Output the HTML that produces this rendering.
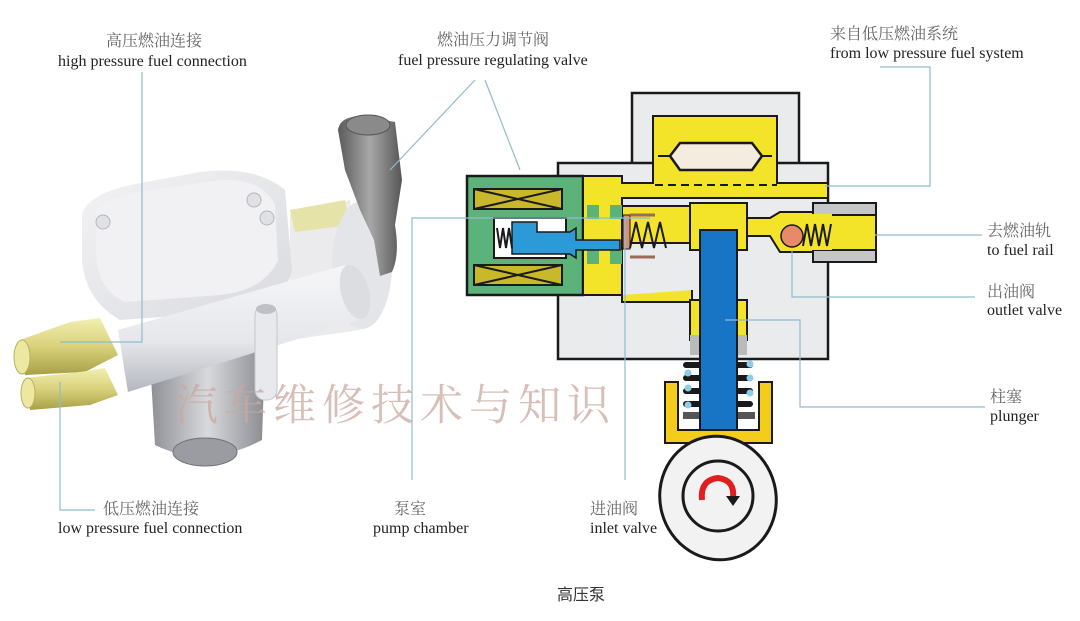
<!DOCTYPE html>
<html><head><meta charset="utf-8"><style>
html,body{margin:0;padding:0;background:#fff;}
svg{display:block;}
.zh{font-family:"Liberation Serif","Noto Serif CJK SC","Noto Sans CJK SC",serif;font-size:16px;fill:#666;}
.en{font-family:"Liberation Serif","Noto Serif CJK SC",serif;font-size:16px;fill:#222;}
.ln{stroke:#8fbccc;stroke-width:1.2;fill:none;}
.k{stroke:#1a1a1a;stroke-width:2.5;}
</style></head><body>
<svg width="1080" height="621" viewBox="0 0 1080 621" xmlns="http://www.w3.org/2000/svg">
<defs>
<linearGradient id="wb" x1="0" y1="0" x2="0" y2="1"><stop offset="0" stop-color="#f6f6f8"/><stop offset="0.6" stop-color="#e6e7eb"/><stop offset="1" stop-color="#b4b7bf"/></linearGradient>
<linearGradient id="cv" x1="0" y1="0" x2="1" y2="1"><stop offset="0" stop-color="#f3f3f5"/><stop offset="1" stop-color="#d9dadf"/></linearGradient>
<linearGradient id="gr" x1="0" y1="0" x2="1" y2="0"><stop offset="0" stop-color="#5a5a5a"/><stop offset="0.5" stop-color="#a8a8a8"/><stop offset="1" stop-color="#555"/></linearGradient>
<linearGradient id="lg" x1="0" y1="0" x2="1" y2="0"><stop offset="0" stop-color="#8d8f95"/><stop offset="0.5" stop-color="#d8d9dc"/><stop offset="1" stop-color="#8a8c92"/></linearGradient>
<linearGradient id="br" x1="0" y1="0" x2="0" y2="1"><stop offset="0" stop-color="#f2efb0"/><stop offset="0.5" stop-color="#d9d27a"/><stop offset="1" stop-color="#a8a048"/></linearGradient>
</defs>

<!-- LEFT PUMP -->
<path d="M150 360 L265 350 L262 440 Q205 470 155 445 Z" fill="url(#lg)"/>
<ellipse cx="205" cy="452" rx="32" ry="14" fill="#9a9ca2" stroke="#6f7176"/>
<path d="M290 215 L350 200 L360 330 L290 340 Z" fill="#ebebee"/>
<path d="M290 210 L345 200 L350 225 L295 232 Z" fill="#e6e3a8"/>
<ellipse cx="362" cy="265" rx="30" ry="64" fill="#e4e5e9"/>
<path d="M82 215 Q86 195 130 185 L200 172 Q255 165 285 190 L292 270 Q285 305 230 312 L120 320 Q85 300 82 260 Z" fill="url(#cv)"/>
<path d="M96 210 Q110 195 150 190 L220 180 Q262 178 275 205 L278 260 Q265 290 220 295 L125 302 Q98 290 96 255 Z" fill="#f1f1f3"/>
<circle cx="103" cy="222" r="7" fill="#e0e1e5" stroke="#b5b6bb"/>
<circle cx="254" cy="200" r="7" fill="#e0e1e5" stroke="#b5b6bb"/>
<circle cx="267" cy="218" r="7" fill="#e0e1e5" stroke="#b5b6bb"/>
<path d="M118 330 L345 265 L365 318 L128 392 Z" fill="url(#wb)"/>
<ellipse cx="355" cy="292" rx="14" ry="28" fill="#dcdde1" transform="rotate(-15 355 292)"/>
<rect x="255" y="305" width="22" height="95" rx="10" fill="#e8e9ec" stroke="#c5c6cc"/>
<ellipse cx="266" cy="309" rx="10" ry="5" fill="#bfc0c6"/>
<path d="M338 130 Q340 116 362 116 L395 122 L402 180 L395 225 Q400 255 392 272 L380 276 L374 240 L360 210 L345 170 Z" fill="url(#gr)"/>
<ellipse cx="368" cy="125" rx="22" ry="10" fill="#8a8a8a" stroke="#555"/>
<path d="M20 340 L70 322 L100 318 L118 355 L85 372 L25 375 Z" fill="url(#br)"/>
<path d="M25 378 L80 372 L105 368 L118 395 L90 405 L30 410 Z" fill="url(#br)"/>
<ellipse cx="22" cy="357" rx="8" ry="17" fill="#ece8a2" stroke="#b8b060"/>
<ellipse cx="28" cy="393" rx="7" ry="15" fill="#ece8a2" stroke="#b8b060"/>

<!-- watermark -->
<text x="175" y="420" font-family="'Noto Serif CJK SC','Noto Sans CJK SC',serif" font-size="43" fill="#c9a89e" fill-opacity="0.75" letter-spacing="6">汽车维修技术与知识</text>

<!-- SCHEMATIC -->
<rect x="632" y="93" width="167" height="75" fill="#eaebed" class="k"/>
<rect x="558" y="163" width="270" height="196" fill="#eaebed" class="k"/>
<rect x="467" y="176" width="116" height="119" fill="#5cb37a" class="k"/>
<path d="M583 176 L622 176 L622 183 L653 183 L653 116 L777 116 L777 183 L828 183 L828 198 L622 198 L622 295 L583 295 Z" fill="#f3e42a" stroke="#1a1a1a" stroke-width="2"/>
<rect x="622" y="206" width="70" height="37" fill="#f3e42a" stroke="#1a1a1a" stroke-width="2"/>
<path d="M622 295 L622 302 L692 302 L692 290" fill="#f3e42a" stroke="#1a1a1a" stroke-width="2"/>
<rect x="690" y="203" width="57" height="47" fill="#f3e42a" stroke="#1a1a1a" stroke-width="2"/>
<path d="M747 218 L770 218 L780 212 L831 212 L831 252 L780 252 L770 236 L747 236 Z" fill="#f3e42a" stroke="#1a1a1a" stroke-width="2"/>
<rect x="813" y="203" width="63" height="59" fill="#c5c6c8" stroke="#1a1a1a" stroke-width="2"/>
<rect x="813" y="215" width="63" height="35" fill="#f3e42a" stroke="#1a1a1a" stroke-width="2"/>
<rect x="780" y="214" width="52" height="36" fill="#f3e42a"/>
<polygon points="670,156 680,143 752,143 762,156 752,170 680,170" fill="#f5ece0" stroke="#1a1a1a" stroke-width="2.5"/>
<line x1="658" y1="156" x2="670" y2="156" stroke="#1a1a1a" stroke-width="2"/>
<line x1="762" y1="156" x2="772" y2="156" stroke="#1a1a1a" stroke-width="2"/>
<line x1="655" y1="185" x2="777" y2="185" stroke="#1a1a1a" stroke-width="2" stroke-dasharray="8,5"/>
<rect x="587" y="205" width="12" height="14" fill="#5cb37a"/><rect x="610" y="205" width="12" height="14" fill="#5cb37a"/>
<rect x="587" y="250" width="12" height="14" fill="#5cb37a"/><rect x="610" y="250" width="12" height="14" fill="#5cb37a"/>
<g stroke="#1a1a1a" stroke-width="2" fill="#c9b82a">
<rect x="474" y="189" width="88" height="20"/><rect x="474" y="265" width="88" height="20"/>
<path d="M474 189 L562 209 M562 189 L474 209 M474 265 L562 285 M562 265 L474 285" fill="none"/>
</g>
<rect x="494" y="218" width="72" height="40" fill="#fff" stroke="#1a1a1a" stroke-width="2"/>
<path d="M512 222 L537 222 L537 232 L570 232 L576 228 L576 240 L620 240 L620 250 L576 250 L576 258 L570 254 L512 254 Z" fill="#2d9ad8" stroke="#1a1a1a" stroke-width="1.5"/>
<polyline points="497,228 500,248 503,228 506,248 509,228 512,248" fill="none" stroke="#1a1a1a" stroke-width="2"/>
<rect x="623" y="215" width="7" height="34" fill="#d9907a" stroke="#1a1a1a" stroke-width="1"/>
<line x1="630" y1="215" x2="655" y2="215" stroke="#9b6a5a" stroke-width="3"/>
<line x1="630" y1="257" x2="655" y2="257" stroke="#9b6a5a" stroke-width="3"/>
<polyline points="630,248 636,222 642,248 648,222 654,248 660,222 666,248" fill="none" stroke="#1a1a1a" stroke-width="2"/>
<circle cx="792" cy="236" r="11" fill="#e88a6a" stroke="#1a1a1a" stroke-width="1.5"/>
<polyline points="803,246 807,224 811,246 815,224 819,246 823,224 827,246 831,224" fill="none" stroke="#1a1a1a" stroke-width="2"/>
<rect x="690" y="300" width="57" height="40" fill="#f3e42a" stroke="#1a1a1a" stroke-width="2"/>
<rect x="690" y="335" width="10" height="20" fill="#b9babc"/><rect x="737" y="335" width="10" height="20" fill="#b9babc"/>
<g fill="#1a1a1a">
<rect x="683" y="362" width="70" height="6" rx="3"/><rect x="683" y="375" width="70" height="6" rx="3"/><rect x="683" y="388" width="70" height="6" rx="3"/><rect x="683" y="401" width="70" height="6" rx="3"/>
</g>
<g fill="#8ccde8"><circle cx="688" cy="373" r="3.5"/><circle cx="688" cy="388" r="3.5"/><circle cx="688" cy="405" r="3.5"/><circle cx="750" cy="364" r="3.5"/><circle cx="750" cy="378" r="3.5"/><circle cx="750" cy="393" r="3.5"/></g>
<rect x="683" y="412" width="72" height="7" fill="#555"/>
<rect x="700" y="230" width="37" height="202" fill="#1874c4" stroke="#1a1a1a" stroke-width="2"/>
<path d="M665 382 L678 382 L678 430 L759 430 L759 382 L772 382 L772 443 L665 443 Z" fill="#f4cc1a" stroke="#1a1a1a" stroke-width="2"/>
<ellipse cx="718" cy="498" rx="58" ry="62" transform="rotate(-15 718 498)" fill="#f2f2f2" stroke="#1a1a1a" stroke-width="3"/>
<circle cx="718" cy="496" r="35" fill="#f2f2f2" stroke="#1a1a1a" stroke-width="3"/>
<path d="M702 500 Q700 480 718 478 Q735 480 733 498" fill="none" stroke="#e02020" stroke-width="6"/>
<path d="M726 496 L740 496 L733 506 Z" fill="#1a1a1a"/>

<!-- LEADER LINES -->
<polyline class="ln" points="142,72 142,342 60,342"/>
<polyline class="ln" points="60,382 60,510 95,510"/>
<polyline class="ln" points="390,170 475,80"/>
<polyline class="ln" points="520,170 485,80"/>
<polyline class="ln" points="412,480 412,218 650,218"/>
<polyline class="ln" points="625,480 625,218"/>
<polyline class="ln" points="880,67 930,67 930,186 825,186"/>
<polyline class="ln" points="875,235 982,235"/>
<polyline class="ln" points="792,250 792,297 975,297"/>
<polyline class="ln" points="725,320 800,320 800,407 985,407"/>

<!-- LABELS -->
<text class="zh" x="106" y="46">高压燃油连接</text>
<text class="en" x="58" y="66">high pressure fuel connection</text>
<text class="zh" x="437" y="45">燃油压力调节阀</text>
<text class="en" x="398" y="65">fuel pressure regulating valve</text>
<text class="zh" x="830" y="39">来自低压燃油系统</text>
<text class="en" x="830" y="58">from low pressure fuel system</text>
<text class="zh" x="987" y="236">去燃油轨</text>
<text class="en" x="987" y="255">to fuel rail</text>
<text class="zh" x="987" y="297">出油阀</text>
<text class="en" x="987" y="315">outlet valve</text>
<text class="zh" x="990" y="402">柱塞</text>
<text class="en" x="990" y="421">plunger</text>
<text class="zh" x="103" y="514">低压燃油连接</text>
<text class="en" x="58" y="533">low pressure fuel connection</text>
<text class="zh" x="394" y="514">泵室</text>
<text class="en" x="373" y="533">pump chamber</text>
<text class="zh" x="590" y="514">进油阀</text>
<text class="en" x="590" y="533">inlet valve</text>
<text x="557" y="600" font-family="'Noto Sans CJK SC',sans-serif" font-size="16" fill="#333">高压泵</text>
</svg>
</body></html>
